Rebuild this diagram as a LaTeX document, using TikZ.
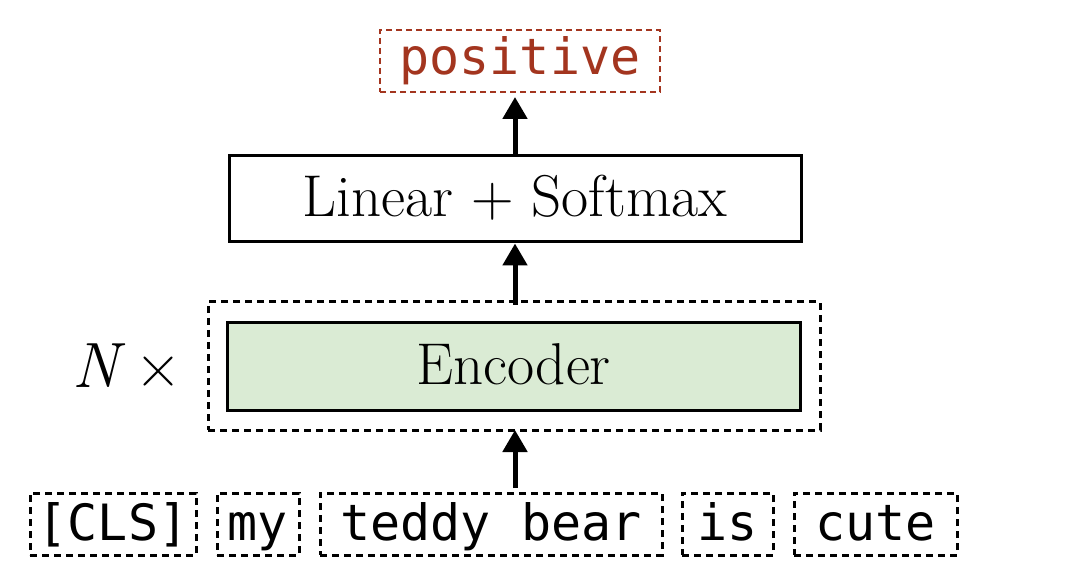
\documentclass[tikz,border=0pt]{standalone}
\usepackage{fontspec}
\setmonofont{DejaVu Sans Mono}
\usetikzlibrary{arrows.meta}
\definecolor{posred}{HTML}{A3351F}
\definecolor{encgreen}{HTML}{DAEBD4}
\tikzset{
  tok/.style={draw, dash pattern=on 7pt off 5pt, line width=3pt, minimum height=62pt, inner sep=0pt, text height=40pt, text depth=8pt, font=\fontsize{50}{56}\selectfont\ttfamily},
  solidbox/.style={draw, line width=3pt, inner sep=0pt, text height=44pt, text depth=8pt, font=\fontsize{59}{66}\selectfont},
  flow/.style={line width=5pt, -{Triangle[length=22pt, width=24pt]}},
}
\begin{document}
\begin{tikzpicture}[x=1pt,y=-1pt]
\useasboundingbox (0,0) rectangle (1080,564);
% output
\node[draw=posred, dash pattern=on 6pt off 4pt, line width=2.2pt, minimum width=280pt, minimum height=62pt, inner sep=0pt, text height=36pt, text depth=8pt, text=posred, font=\fontsize{50}{56}\selectfont\ttfamily] (pos) at (520,61) {positive};
% linear
\node[solidbox, minimum width=572pt, minimum height=86pt] (lin) at (515,199) {Linear + Softmax};
% dashed wrapper
\node[draw, dash pattern=on 7pt off 5pt, line width=3pt, minimum width=612pt, minimum height=128pt, inner sep=0pt] (wrap) at (514,366) {};
\node[solidbox, fill=encgreen, minimum width=573pt, minimum height=87pt] (enc) at (513.5,366.5) {Encoder};
\node[font=\fontsize{64}{70}\selectfont, inner sep=0pt, text height=44pt, text depth=8pt] (nx) at (127,370) {\textit{N}\,×};
% tokens
\node[tok, minimum width=166pt] (cls) at (113,524) {[CLS]};
\node[tok, minimum width=82pt] (my) at (258,524) {my};
\node[tok, minimum width=342pt] (ted) at (491,524) {teddy bear};
\node[tok, minimum width=91pt] (is) at (727.5,524) {is};
\node[tok, minimum width=163pt] (cute) at (875.5,524) {cute};
% arrows
\coordinate (a1) at (515,488);
\draw[flow] (a1) -- (515,430);
\draw[flow] (515,305) -- (lin.south -| 515,0);
\draw[flow] (lin.north -| 515,0) -- (515,97);
\end{tikzpicture}
\end{document}
